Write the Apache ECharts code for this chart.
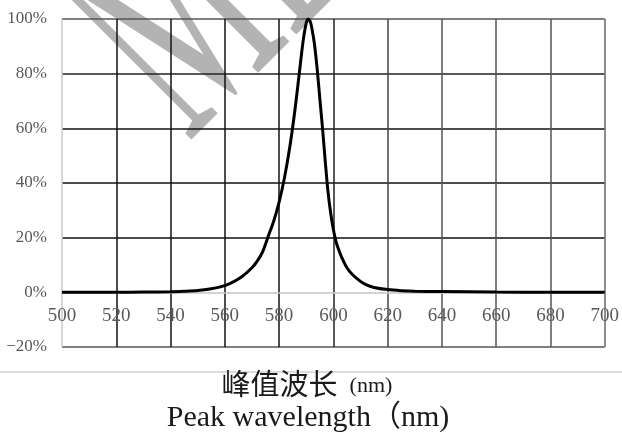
<!DOCTYPE html>
<html>
<head>
<meta charset="utf-8">
<script src="https://cdn.jsdelivr.net/npm/echarts@6/dist/echarts.min.js"></script>
<style>html,body{margin:0;padding:0;background:#fff}#c{width:622px;height:439px}</style>
</head>
<body>
<div id="c"></div>
<script>
// Wavelength (nm) and relative intensity (%)
const wavelengths = [500,510,520,530,540,545,550,555,558,562,566,570,572,574,576,578,580,582,584,586,588,589,590,590.7,591.5,592,593,594,595,596,597,598,599,600,601,602,603,605,607,610,612,615,620,625,630,640,660,680,700];
const intensities = [0,0,0,0.1,0.2,0.4,0.7,1.3,1.9,3.3,5.5,9,11.5,15,20.5,26,33,42,53.5,68,85,93,98.5,100,99,97,91,82,71,60,48,37,29,23,18.5,15.5,13,9,6.5,4,2.8,1.8,1,0.6,0.4,0.3,0.1,0.05,0];
const xTicks = [500,520,540,560,580,600,620,640,660,680,700];
const yTicks = [-20,0,20,40,60,80,100];
const titleCn = '峰值波长';
const titleCnUnit = '(nm)';
const titleEn = 'Peak wavelength（nm)';
const watermark = 'ML';

const chart = echarts.init(document.getElementById('c'), null, {renderer:'canvas'});
const pts = wavelengths.map((w,i)=>[w,intensities[i]]);
chart.setOption({
  animation:false,
  backgroundColor:'#fff',
  grid:{left:62,right:17,top:19,bottom:92,containLabel:false},
  xAxis:{
    type:'value',min:xTicks[0],max:xTicks[xTicks.length-1],interval:20,
    axisLine:{show:true,onZero:false,lineStyle:{color:'#d0d0d0',width:1.5}},
    axisTick:{show:false},
    axisLabel:{margin:14,color:'#595959',fontFamily:'Liberation Serif',fontSize:19},
    splitLine:{show:true,lineStyle:{width:1.5,color:['#c8c8c8','#111','#111','#111','#111','#222','#444','#555','#555','#555','#666']}}
  },
  yAxis:{
    type:'value',min:yTicks[0],max:yTicks[yTicks.length-1],interval:20,
    axisLine:{show:false,onZero:false},axisTick:{show:false},
    axisLabel:{margin:15,color:'#595959',fontFamily:'Liberation Serif',fontSize:17,
      formatter:v=>(v<0?'\u2212'+(-v):v)+'%'},
    splitLine:{show:true,lineStyle:{width:1.5,color:['#555','#d0d0d0','#111','#111','#111','#222','#555']}}
  },
  graphic:[
    {type:'text',z:-10,x:213,y:152,rotation:Math.PI/4,scaleX:0.51,scaleY:1,silent:true,
     style:{text:watermark,x:-22,y:-110,fontFamily:'Liberation Serif',fontSize:327,fill:'#b3b3b3',textAlign:'left',textVerticalAlign:'middle'}},
    {type:'line',shape:{x1:0,y1:372,x2:622,y2:372},style:{stroke:'#d0d0d0',lineWidth:1.5}},
    {type:'text',x:307,y:384,style:{text:'{a|'+titleCn+'}{b|'+titleCnUnit+'}',textAlign:'center',textVerticalAlign:'middle',
      rich:{a:{fontFamily:'Noto Sans CJK SC',fontSize:29,fill:'#1a1a1a',color:'#1a1a1a'},b:{fontFamily:'Liberation Serif',fontSize:22,fill:'#1a1a1a',color:'#1a1a1a',padding:[4,0,0,12]}}}},
    {type:'text',x:308,y:418,style:{text:titleEn,textAlign:'center',textVerticalAlign:'middle',fontFamily:'Liberation Serif, Noto Sans CJK SC',fontSize:30,fill:'#1a1a1a'}}
  ],
  series:[{
    type:'line',data:pts,showSymbol:false,symbol:'none',smooth:0.3,
    lineStyle:{color:'#000',width:3},z:5
  }]
});
// place the x axis (line + labels) on the zero value of the y axis
const yZero = chart.convertToPixel({gridIndex:0},[xTicks[0],0])[1];
const yBottom = chart.convertToPixel({gridIndex:0},[xTicks[0],yTicks[0]])[1];
chart.setOption({xAxis:{offset:yZero - yBottom}});
</script>
</body>
</html>
